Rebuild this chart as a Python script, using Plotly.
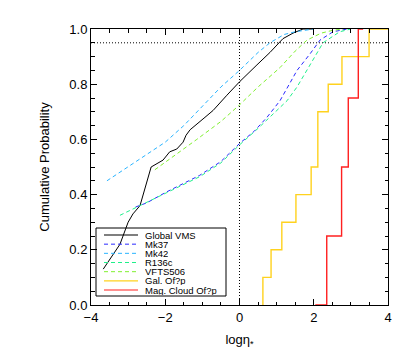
import plotly.graph_objects as go

# ---------------- data ----------------
global_x = [-3.67, -3.22, -3.0, -2.87, -2.68, -2.38, -2.06, -1.88, -1.69, -1.52, -1.44, -1.33,
            -0.93, -0.71, -0.34, -0.07, 0.01, 0.47, 0.82, 1.17, 1.44, 1.71, 2.0]
global_y = [0.13, 0.22, 0.30, 0.33, 0.36, 0.50, 0.525, 0.555, 0.565, 0.59, 0.615, 0.635,
            0.68, 0.705, 0.76, 0.80, 0.81, 0.87, 0.915, 0.965, 0.985, 1.0, 1.0]

mk37_x = [-2.8, -2.5, -1.96, -1.5, -1.07, -0.5, 0.0, 0.4, 0.74, 1.09, 1.3, 1.55, 1.9, 2.17, 2.52, 2.9]
mk37_y = [0.355, 0.37, 0.41, 0.44, 0.47, 0.52, 0.585, 0.63, 0.68, 0.74, 0.79, 0.85, 0.91, 0.96, 0.99, 1.0]

mk42_x = [-3.57, -3.0, -2.5, -2.0, -1.5, -1.0, -0.5, 0.0, 0.5, 0.82, 1.2, 1.5, 2.0]
mk42_y = [0.45, 0.50, 0.545, 0.59, 0.65, 0.72, 0.79, 0.85, 0.915, 0.95, 0.98, 0.99, 1.0]

r136c_x = [-3.22, -2.68, -1.96, -1.5, -1.07, -0.5, 0.0, 0.5, 0.9, 1.28, 1.55, 1.82, 2.09, 2.25, 2.7, 3.0]
r136c_y = [0.325, 0.36, 0.405, 0.435, 0.465, 0.515, 0.58, 0.64, 0.69, 0.74, 0.79, 0.85, 0.91, 0.95, 0.99, 1.0]

vfts506_x = [-2.28, -1.7, -1.15, -0.5, 0.0, 0.5, 1.09, 1.5, 1.82, 2.2, 2.5, 2.8]
vfts506_y = [0.49, 0.545, 0.60, 0.665, 0.725, 0.79, 0.86, 0.92, 0.96, 0.985, 0.995, 1.0]

gal_ofp = [0.63, 0.85, 1.14, 1.52, 1.93, 2.11, 2.11, 2.39, 2.76, 3.49]
gal_start, gal_end = 0.63, 4.0
mag_ofp = [2.35, 2.75, 2.93, 3.20]
mag_start, mag_end = 2.04, 3.33

x_ticks = [-4, -2, 0, 2, 4]
y_ticks = [0.0, 0.2, 0.4, 0.6, 0.8, 1.0]

labels = ["Global VMS", "Mk37", "Mk42", "R136c", "VFTS506", "Gal. Of?p", "Mag. Cloud Of?p"]
colors = ["black", "#2a2aff", "#2ab4ff", "#1ef08a", "#80f030", "#ffd21e", "#ff2020"]
dashes = ["solid", "4px,3px", "4px,3px", "4px,3px", "4px,3px", "solid", "solid"]


def ecdf_steps(vals, start, end):
    vals = sorted(vals)
    n = len(vals)
    xs, ys = [start], [0.0]
    prev = 0.0
    for v in sorted(set(vals)):
        cnt = sum(1 for t in vals if t <= v) / n
        xs += [v, v]
        ys += [prev, cnt]
        prev = cnt
    xs.append(end)
    ys.append(prev)
    return xs, ys


fig = go.Figure()

curves = [(global_x, global_y), (mk37_x, mk37_y), (mk42_x, mk42_y),
          (r136c_x, r136c_y), (vfts506_x, vfts506_y)]
for i, (xs, ys) in enumerate(curves):
    fig.add_trace(go.Scatter(x=xs, y=ys, mode="lines", name=labels[i],
                             line=dict(color=colors[i], width=1, dash=dashes[i]),
                             showlegend=False))

gx, gy = ecdf_steps(gal_ofp, gal_start, gal_end)
fig.add_trace(go.Scatter(x=gx, y=gy, mode="lines", name=labels[5],
                         line=dict(color=colors[5], width=1.4), showlegend=False))
mx, my = ecdf_steps(mag_ofp, mag_start, mag_end)
fig.add_trace(go.Scatter(x=mx, y=my, mode="lines", name=labels[6],
                         line=dict(color=colors[6], width=1.4), showlegend=False))

# reference dotted lines
fig.add_shape(type="line", xref="paper", yref="y", x0=0, x1=1, y0=0.95, y1=0.95,
              line=dict(color="black", width=1, dash="1px,2px"), layer="below")
fig.add_shape(type="line", xref="x", yref="paper", x0=0, x1=0, y0=0, y1=1,
              line=dict(color="black", width=1, dash="1px,2px"), layer="below")

# manual legend (paper coordinates); screen pixel targets, page body offset 8px
OFF = 8
L, R, T, B = 91 - OFF, 388 - OFF, 29 - OFF, 305 - OFF
W, H = R - L, B - T
def px(x):
    return (x - OFF - L) / W
def py(y):
    return (B - (y - OFF)) / H

fig.add_shape(type="rect", xref="paper", yref="paper",
              x0=px(96), x1=px(226), y0=py(296), y1=py(228),
              line=dict(color="black", width=1), fillcolor="white", layer="below")
for i, lab in enumerate(labels):
    yy = 235 + i * 9.17
    fig.add_shape(type="line", xref="paper", yref="paper",
                  x0=px(104), x1=px(138), y0=py(yy), y1=py(yy),
                  line=dict(color=colors[i], width=1.2 if dashes[i] == "solid" else 1,
                            dash=dashes[i]), layer="above")
    fig.add_annotation(xref="paper", yref="paper", x=px(144), y=py(yy), text=lab,
                       showarrow=False, xanchor="left", yanchor="middle",
                       height=9, valign="middle", borderpad=0,
                       font=dict(size=9.5, color="black", family="Liberation Sans"))

axis_common = dict(showline=True, linecolor="black", linewidth=1, mirror="allticks",
                   ticks="inside", ticklen=6, tickcolor="black", tickwidth=1,
                   showgrid=False, zeroline=False,
                   tickfont=dict(size=13, color="black", family="Liberation Sans"))

fig.update_xaxes(range=[-4, 4], tickvals=x_ticks,
                 ticktext=[("\u2212" + str(abs(v))) if v < 0 else str(v) for v in x_ticks],
                 minor=dict(dtick=0.5, ticks="inside", ticklen=3.5, tickcolor="black", showgrid=False),
                 title=dict(text="log\u03b7<sub>*</sub>", standoff=11,
                            font=dict(size=13, color="black", family="Liberation Sans")),
                 **axis_common)
fig.update_yaxes(range=[0, 1], tickvals=y_ticks, ticktext=[f"{v:.1f}" for v in y_ticks],
                 minor=dict(dtick=0.05, ticks="inside", ticklen=3.5, tickcolor="black", showgrid=False),
                 title=dict(text="Cumulative Probability", standoff=16,
                            font=dict(size=13, color="black", family="Liberation Sans")),
                 **axis_common)

fig.update_layout(width=415, height=363,
                  margin=dict(l=L, r=415 - R, t=T, b=363 - B, autoexpand=False),
                  plot_bgcolor="white", paper_bgcolor="white", showlegend=False)

fig.write_html("out.html")
